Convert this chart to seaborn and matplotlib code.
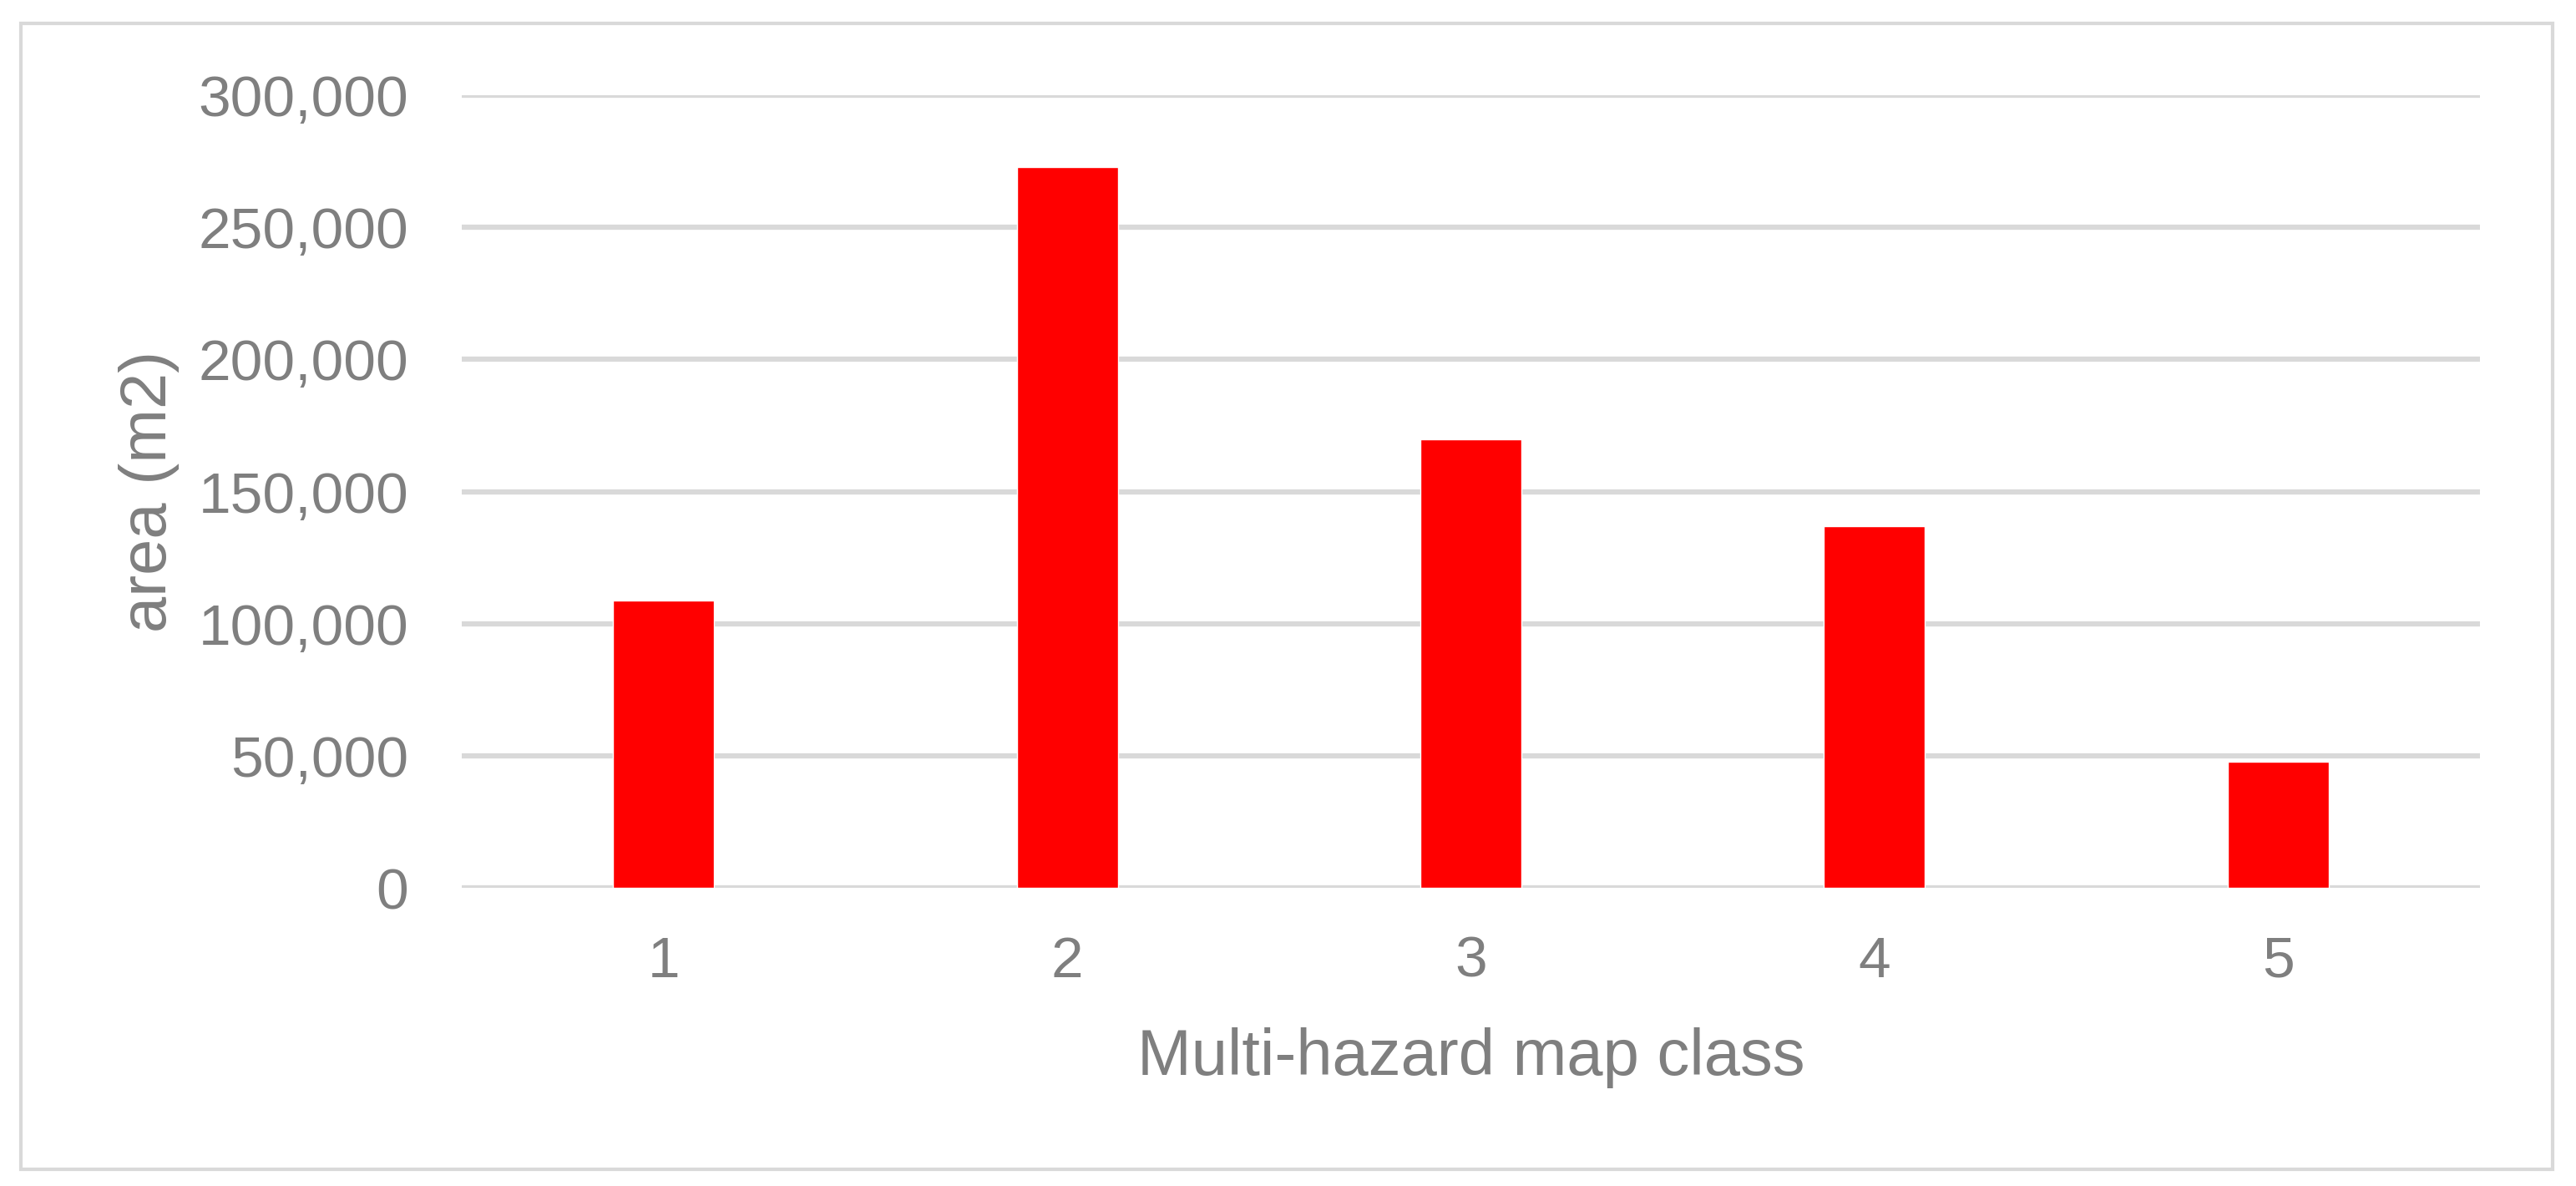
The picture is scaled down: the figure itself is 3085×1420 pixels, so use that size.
import matplotlib
matplotlib.use("Agg")
import matplotlib.pyplot as plt
import matplotlib.ticker as mticker
from matplotlib.patches import Rectangle
import seaborn as sns

# values
map_classes = ["1", "2", "3", "4", "5"]
area_m2 = [108700, 272700, 169800, 137000, 47600]
y_ticks = [0, 50000, 100000, 150000, 200000, 250000, 300000]

TEXT_GREY = "#7f7f7f"
GRID_GREY = "#d9d9d9"

sns.set_theme(style="white")
plt.rcParams["font.family"] = ["Liberation Sans", "DejaVu Sans"]

fig = plt.figure(figsize=(30.85, 14.2), dpi=100)
ax = fig.add_axes([0.1793, 0.2514, 0.7834, 0.6683])

sns.barplot(x=map_classes, y=area_m2, color="#ff0000", saturation=1,
            width=0.25, ax=ax, zorder=3)

ax.set_ylim(0, 300000)
ax.set_yticks(y_ticks)
ax.yaxis.set_major_formatter(mticker.FuncFormatter(lambda v, _: f"{int(v):,}"))
ax.grid(axis="y", color=GRID_GREY, linewidth=4.5, zorder=0)
ax.set_axisbelow(True)
for s in ax.spines.values():
    s.set_visible(False)

ax.tick_params(axis="y", length=0, pad=46, labelsize=50, labelcolor=TEXT_GREY)
ax.tick_params(axis="x", length=0, pad=41, labelsize=50, labelcolor=TEXT_GREY)

ax.set_xlabel("Multi-hazard map class", fontsize=56, color=TEXT_GREY)
ax.set_ylabel("area (m2)", fontsize=56, color=TEXT_GREY)
ax.xaxis.set_label_coords(0.5, -0.176)
ax.yaxis.set_label_coords(-0.140, 0.5)

# light frame round the whole chart
fig.patches.append(Rectangle((25 / 3085, 1 - 1400 / 1420), 3032 / 3085, 1372 / 1420,
                             transform=fig.transFigure, fill=False,
                             edgecolor=GRID_GREY, linewidth=3))

fig.savefig("out.png", dpi=100, facecolor="white")
